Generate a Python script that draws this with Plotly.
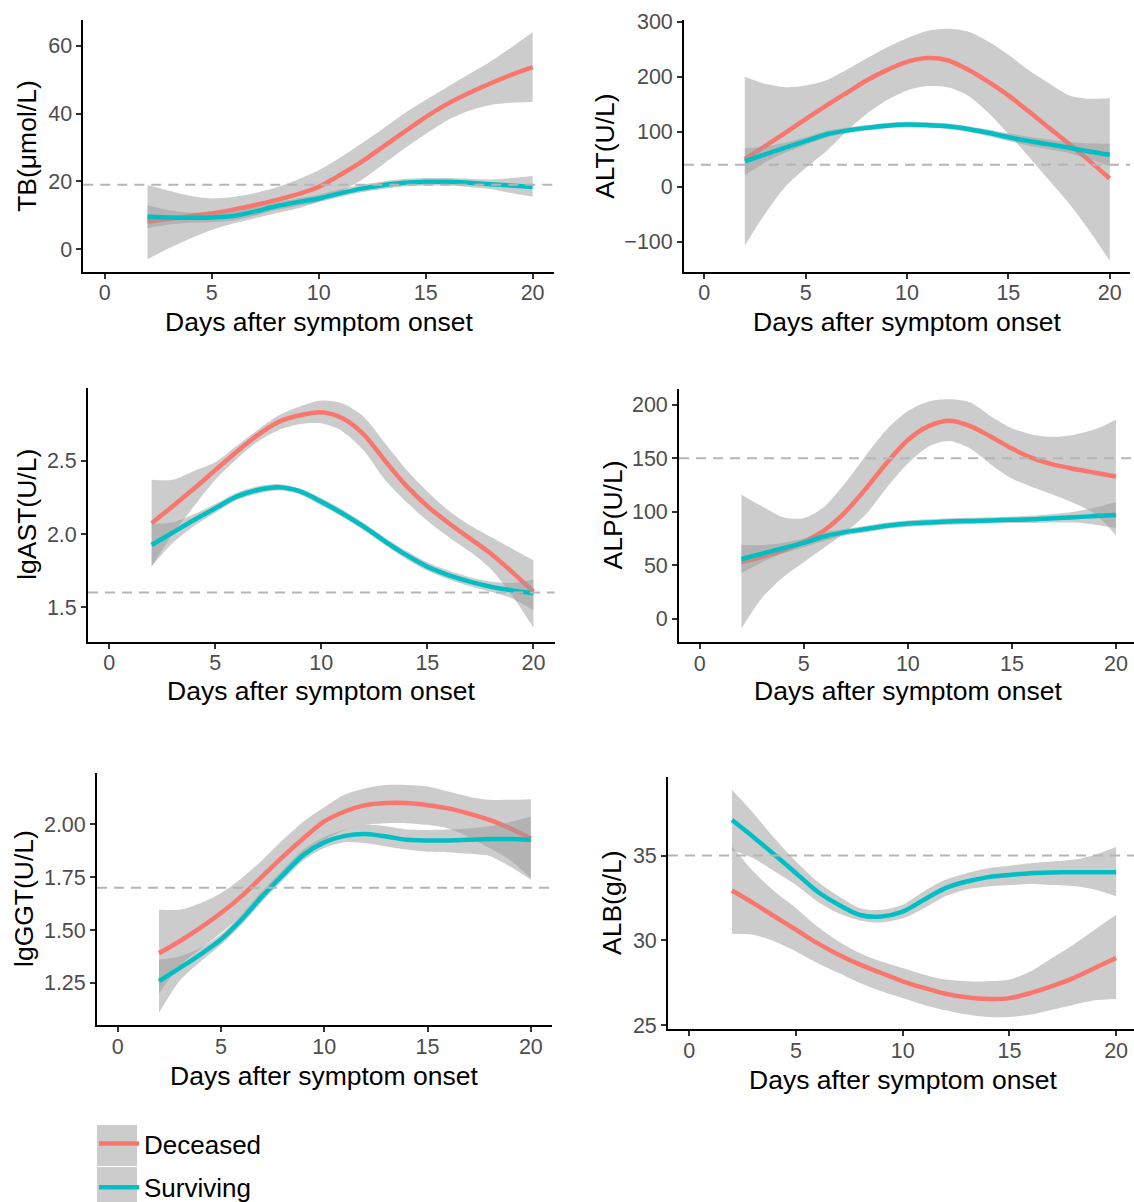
import plotly.graph_objects as go

# ---------------- data ----------------
days = list(range(2, 21))
x_ticks = [0, 5, 10, 15, 20]
groups = ["Deceased", "Surviving"]

# TB (µmol/L)
tb_dec    = [8.1, 9.0, 9.8, 10.6, 11.7, 13.0, 14.5, 16.2, 18.4, 21.9, 25.8, 30.2, 34.6, 39.0, 42.8, 46.0, 48.8, 51.4, 53.7]
tb_dec_hi = [18.9, 17.3, 15.8, 15.0, 15.4, 16.5, 18.2, 20.5, 23.3, 27.0, 31.2, 35.5, 40.0, 44.0, 47.8, 51.5, 55.2, 59.5, 64.0]
tb_dec_lo = [-2.9, 0.3, 3.2, 5.7, 7.6, 9.1, 10.6, 12.0, 14.0, 16.8, 20.4, 25.0, 29.7, 34.0, 38.0, 40.8, 42.5, 43.2, 43.4]
tb_sur    = [9.6, 9.4, 9.3, 9.4, 9.8, 11.1, 12.7, 13.9, 15.0, 16.5, 17.9, 18.9, 19.6, 19.9, 19.9, 19.6, 19.2, 18.8, 18.4]
tb_sur_hi = [13.0, 11.5, 10.8, 10.8, 11.1, 12.3, 13.8, 15.0, 16.1, 17.6, 19.0, 20.0, 20.7, 21.0, 21.0, 20.8, 20.6, 21.0, 21.6]
tb_sur_lo = [6.2, 7.3, 7.8, 8.0, 8.5, 9.9, 11.6, 12.8, 13.9, 15.4, 16.8, 17.8, 18.5, 18.8, 18.8, 18.4, 17.8, 16.6, 15.5]
tb_ticks = [0, 20, 40, 60]
tb_ref = 19

# ALT (U/L)
alt_dec    = [50, 74, 98, 123, 147, 170, 193, 212, 227, 234, 230, 213, 191, 166, 137, 107, 78, 47, 15]
alt_dec_hi = [200, 187, 181, 184, 193, 212, 233, 253, 270, 283, 287, 282, 264, 240, 212, 188, 166, 160, 161]
alt_dec_lo = [-107, -49, 0, 34, 64, 100, 132, 157, 175, 183, 181, 166, 135, 96, 55, 12, -31, -80, -135]
alt_sur    = [46, 59, 71, 83, 95, 102, 107, 111, 113, 112, 110, 105, 98, 90, 83, 77, 71, 64, 58]
alt_sur_hi = [70, 73, 80, 90, 101, 107, 112, 116, 118, 117, 115, 110, 104, 97, 91, 86, 81, 79, 78]
alt_sur_lo = [21, 44, 62, 76, 89, 97, 102, 106, 108, 107, 105, 100, 92, 83, 75, 68, 61, 50, 37]
alt_ticks = [-100, 0, 100, 200, 300]
alt_ticktext = ["\u2212100", "0", "100", "200", "300"]
alt_ref = 40

# lgAST (U/L)
ast_dec    = [2.073, 2.19, 2.31, 2.436, 2.56, 2.675, 2.766, 2.81, 2.83, 2.79, 2.68, 2.50, 2.33, 2.19, 2.075, 1.97, 1.865, 1.74, 1.607]
ast_dec_hi = [2.37, 2.37, 2.43, 2.49, 2.60, 2.71, 2.81, 2.87, 2.91, 2.89, 2.80, 2.62, 2.44, 2.29, 2.16, 2.06, 1.98, 1.90, 1.82]
ast_dec_lo = [1.78, 2.00, 2.19, 2.37, 2.51, 2.63, 2.71, 2.75, 2.755, 2.70, 2.57, 2.37, 2.22, 2.09, 1.98, 1.88, 1.76, 1.58, 1.36]
ast_sur    = [1.925, 2.01, 2.095, 2.175, 2.255, 2.30, 2.318, 2.29, 2.22, 2.14, 2.05, 1.95, 1.857, 1.777, 1.72, 1.675, 1.64, 1.615, 1.595]
ast_sur_hi = [2.07, 2.08, 2.135, 2.205, 2.28, 2.325, 2.34, 2.31, 2.245, 2.165, 2.075, 1.975, 1.885, 1.805, 1.75, 1.705, 1.675, 1.665, 1.69]
ast_sur_lo = [1.78, 1.94, 2.055, 2.145, 2.23, 2.275, 2.296, 2.27, 2.195, 2.115, 2.025, 1.925, 1.83, 1.75, 1.69, 1.645, 1.605, 1.56, 1.48]
ast_ticks = [1.5, 2.0, 2.5]
ast_ticktext = ["1.5", "2.0", "2.5"]
ast_ref = 1.6

# ALP (U/L)
alp_dec    = [53, 58, 64, 72, 83, 100, 122, 146, 167, 180, 185, 180, 170, 159, 150, 144, 140, 136.5, 133]
alp_dec_hi = [116, 105, 95, 94, 105, 127, 153, 177, 194, 203, 205, 202, 189, 178, 172, 170, 172, 177, 186]
alp_dec_lo = [-9, 20, 39, 53, 67, 81, 98, 123, 145, 161, 166, 159, 144, 131, 123, 116, 108, 98, 78]
alp_sur    = [56, 61, 66, 71, 77, 81, 84, 87, 89, 90, 91, 91.5, 92, 92.5, 93, 94, 95, 96, 97]
alp_sur_hi = [69, 69, 71, 75, 81, 84, 87, 90, 92, 93, 94, 94.5, 95, 95.5, 96.5, 98, 100, 104, 109]
alp_sur_lo = [43, 53, 61, 67, 73, 78, 81, 84, 86, 87, 88, 88.5, 89, 89.5, 89.5, 90, 90, 88, 85]
alp_ticks = [0, 50, 100, 150, 200]
alp_ref = 150

# lgGGT (U/L)
ggt_dec    = [1.39, 1.447, 1.51, 1.58, 1.66, 1.753, 1.847, 1.934, 2.013, 2.06, 2.09, 2.10, 2.10, 2.09, 2.075, 2.05, 2.02, 1.98, 1.934]
ggt_dec_hi = [1.596, 1.596, 1.627, 1.674, 1.745, 1.83, 1.926, 2.013, 2.08, 2.14, 2.17, 2.185, 2.185, 2.178, 2.154, 2.13, 2.115, 2.115, 2.118]
ggt_dec_lo = [1.20, 1.33, 1.41, 1.486, 1.57, 1.675, 1.77, 1.855, 1.926, 1.973, 1.997, 2.005, 2.005, 1.997, 1.98, 1.94, 1.887, 1.83, 1.745]
ggt_sur    = [1.258, 1.32, 1.384, 1.455, 1.55, 1.66, 1.76, 1.855, 1.914, 1.945, 1.954, 1.942, 1.926, 1.923, 1.923, 1.926, 1.93, 1.93, 1.926]
ggt_sur_hi = [1.36, 1.375, 1.415, 1.48, 1.575, 1.685, 1.785, 1.88, 1.94, 1.975, 1.997, 1.99, 1.975, 1.973, 1.975, 1.98, 1.99, 2.01, 2.036]
ggt_sur_lo = [1.108, 1.26, 1.35, 1.43, 1.525, 1.635, 1.735, 1.83, 1.888, 1.915, 1.91, 1.895, 1.88, 1.87, 1.868, 1.86, 1.85, 1.80, 1.737]
ggt_ticks = [1.25, 1.50, 1.75, 2.00]
ggt_ticktext = ["1.25", "1.50", "1.75", "2.00"]
ggt_ref = 1.7

# ALB (g/L)
alb_dec    = [32.94, 32.2, 31.41, 30.63, 29.84, 29.16, 28.57, 28.08, 27.59, 27.2, 26.86, 26.65, 26.55, 26.6, 26.9, 27.3, 27.78, 28.37, 28.96]
alb_dec_hi = [35.57, 34.06, 32.88, 31.9, 30.82, 29.94, 29.25, 28.76, 28.37, 27.98, 27.69, 27.59, 27.59, 27.69, 28.18, 28.96, 29.75, 30.63, 31.51]
alb_dec_lo = [30.39, 30.33, 29.94, 29.35, 28.67, 28.08, 27.49, 27.0, 26.6, 26.2, 25.88, 25.63, 25.49, 25.49, 25.63, 25.92, 26.2, 26.47, 26.55]
alb_sur    = [37.1, 36.1, 35.04, 33.96, 32.88, 32.1, 31.5, 31.41, 31.7, 32.4, 33.08, 33.47, 33.73, 33.86, 33.96, 34.0, 34.02, 34.02, 34.02]
alb_sur_hi = [38.86, 37.5, 36.0, 34.65, 33.47, 32.6, 31.9, 31.8, 32.1, 32.9, 33.57, 33.96, 34.25, 34.4, 34.55, 34.65, 34.75, 35.04, 35.5]
alb_sur_lo = [35.33, 34.84, 34.06, 33.27, 32.3, 31.6, 31.18, 31.06, 31.3, 31.9, 32.6, 33.0, 33.18, 33.27, 33.33, 33.27, 33.2, 33.0, 32.6]
alb_ticks = [25, 30, 35]
alb_ref = 35

# ---------------- styling / layout ----------------
W, H = 1134, 1202
COL = {"Deceased": "#F8766D", "Surviving": "#00BFC4"}
BAND = "rgba(153,153,153,0.5)"
FONT = "Liberation Sans, Arial, Helvetica, sans-serif"

def px(p):
    return p / W

def py(p):
    return 1 - p / H

panels = [
    dict(title="TB(\u03bcmol/L)", dec=(tb_dec, tb_dec_lo, tb_dec_hi), sur=(tb_sur, tb_sur_lo, tb_sur_hi),
         yt=tb_ticks, ytt=[str(v) for v in tb_ticks], ref=tb_ref,
         xd=(83.3, 554), yd=(20, 271.7), xr=(-1, 21), yr=(-6.6, 67.6), ytx=27, xty=322),
    dict(title="ALT(U/L)", dec=(alt_dec, alt_dec_lo, alt_dec_hi), sur=(alt_sur, alt_sur_lo, alt_sur_hi),
         yt=alt_ticks, ytt=alt_ticktext, ref=alt_ref,
         xd=(684, 1130), yd=(20, 271.7), xr=(-1, 21), yr=(-154.5, 303.1), ytx=605, xty=322),
    dict(title="lgAST(U/L)", dec=(ast_dec, ast_dec_lo, ast_dec_hi), sur=(ast_sur, ast_sur_lo, ast_sur_hi),
         yt=ast_ticks, ytt=ast_ticktext, ref=ast_ref,
         xd=(88, 554.6), yd=(388, 641.7), xr=(-1, 21), yr=(1.265, 2.996), ytx=27, xty=691),
    dict(title="ALP(U/L)", dec=(alp_dec, alp_dec_lo, alp_dec_hi), sur=(alp_sur, alp_sur_lo, alp_sur_hi),
         yt=alp_ticks, ytt=[str(v) for v in alp_ticks], ref=alp_ref,
         xd=(679, 1134), yd=(389, 642), xr=(-1, 20.87), yr=(-21.5, 214.6), ytx=612, xty=691),
    dict(title="lgGGT(U/L)", dec=(ggt_dec, ggt_dec_lo, ggt_dec_hi), sur=(ggt_sur, ggt_sur_lo, ggt_sur_hi),
         yt=ggt_ticks, ytt=ggt_ticktext, ref=ggt_ref,
         xd=(97, 551.5), yd=(773, 1025), xr=(-1, 21), yr=(1.051, 2.242), ytx=24, xty=1076),
    dict(title="ALB(g/L)", dec=(alb_dec, alb_dec_lo, alb_dec_hi), sur=(alb_sur, alb_sur_lo, alb_sur_hi),
         yt=alb_ticks, ytt=[str(v) for v in alb_ticks], ref=alb_ref,
         xd=(668, 1134), yd=(777, 1029), xr=(-1, 20.84), yr=(24.78, 39.63), ytx=612, xty=1080),
]

fig = go.Figure()
layout = dict(
    width=W, height=H, margin=dict(l=0, r=0, t=0, b=0, pad=0, autoexpand=False),
    paper_bgcolor="white", plot_bgcolor="white",
    font=dict(family=FONT, color="black"),
    showlegend=True,
    legend=dict(x=px(94), y=py(1120), xanchor="left", yanchor="top",
                font=dict(size=26, color="black", family=FONT),
                bgcolor="rgba(0,0,0,0)", tracegroupgap=7, itemwidth=40),
)
annotations = []
shapes = []

for i, p in enumerate(panels):
    n = i + 1
    xa = "x" if n == 1 else f"x{n}"
    ya = "y" if n == 1 else f"y{n}"
    axis_common = dict(showgrid=False, zeroline=False, showline=True, linecolor="black", linewidth=1.8,
                       ticks="outside", ticklen=5, tickwidth=1.6, tickcolor="#333333",
                       tickfont=dict(size=21.5, color="#4D4D4D", family=FONT), fixedrange=True,
                       automargin=False)
    layout["xaxis" if n == 1 else f"xaxis{n}"] = dict(
        domain=[px(p["xd"][0]), px(p["xd"][1])], range=list(p["xr"]), anchor=ya,
        tickvals=x_ticks, ticktext=[str(v) for v in x_ticks], ticklabelstandoff=-4, **axis_common)
    layout["yaxis" if n == 1 else f"yaxis{n}"] = dict(
        domain=[py(p["yd"][1]), py(p["yd"][0])], range=list(p["yr"]), anchor=xa,
        tickvals=p["yt"], ticktext=p["ytt"], **axis_common)

    for g, key in (("Deceased", "dec"), ("Surviving", "sur")):
        mid, lo, hi = p[key]
        fig.add_trace(go.Scatter(x=days, y=lo, xaxis=xa, yaxis=ya, mode="lines",
                                 line=dict(width=0, shape="spline", smoothing=0.8),
                                 hoverinfo="skip", showlegend=False, legendgroup=g))
        fig.add_trace(go.Scatter(x=days, y=hi, xaxis=xa, yaxis=ya, mode="lines",
                                 line=dict(width=0, shape="spline", smoothing=0.8),
                                 fill="tonexty", fillcolor=BAND,
                                 hoverinfo="skip", showlegend=False, legendgroup=g))
        fig.add_trace(go.Scatter(x=days, y=mid, xaxis=xa, yaxis=ya, mode="lines", name=g,
                                 line=dict(color=COL[g], width=4.5, shape="spline", smoothing=0.8),
                                 showlegend=(n == 1), legendgroup=g))

    shapes.append(dict(type="line", xref=f"{xa} domain", yref=ya, x0=0, x1=1, y0=p["ref"], y1=p["ref"],
                       line=dict(color="#B5B5B5", width=2, dash="10px,7px"), layer="above"))

    annotations.append(dict(text=p["title"], textangle=-90, showarrow=False,
                            xref="paper", yref="paper", x=px(p["ytx"]), y=py((p["yd"][0] + p["yd"][1]) / 2),
                            xanchor="center", yanchor="middle",
                            font=dict(size=26.5, color="black", family=FONT)))
    x0d = p["xd"][0]
    xcen = (x0d + (p["xd"][1] - x0d) * (10 - p["xr"][0]) / (p["xr"][1] - p["xr"][0]))
    annotations.append(dict(text="Days after symptom onset", showarrow=False,
                            xref="paper", yref="paper", x=px(xcen), y=py(p["xty"]),
                            xanchor="center", yanchor="middle",
                            font=dict(size=26.5, color="black", family=FONT)))

# legend key backgrounds
shapes.append(dict(type="rect", xref="paper", yref="paper", x0=px(97), x1=px(137), y0=py(1166), y1=py(1125),
                   fillcolor="#CCCCCC", line=dict(width=0), layer="below"))
shapes.append(dict(type="rect", xref="paper", yref="paper", x0=px(97), x1=px(137), y0=py(1202), y1=py(1167),
                   fillcolor="#CCCCCC", line=dict(width=0), layer="below"))

layout["annotations"] = annotations
layout["shapes"] = shapes
fig.update_layout(**layout)
fig.write_html("out.html", config={"displayModeBar": False},
               post_script="document.body.style.margin='0';document.body.style.padding='0';"
                           "document.body.style.overflow='hidden';document.documentElement.style.overflow='hidden';")
